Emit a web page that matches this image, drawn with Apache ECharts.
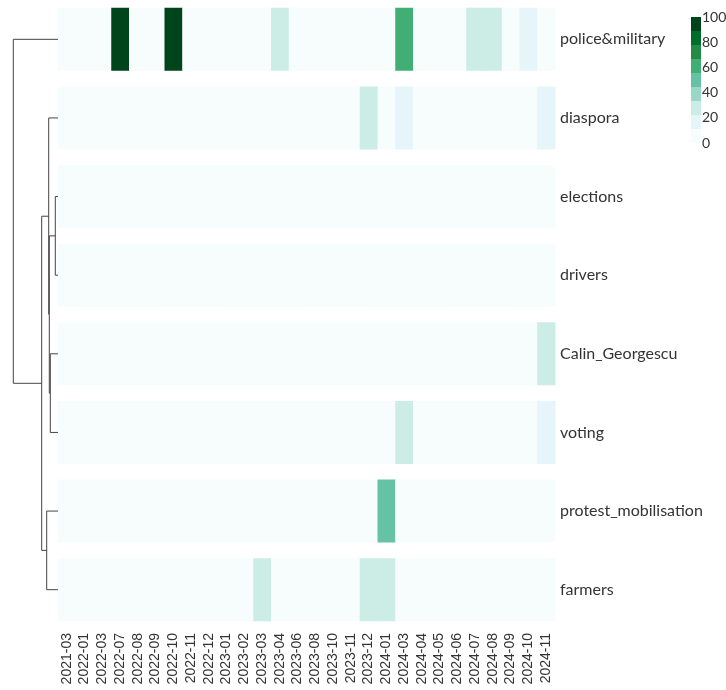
<!DOCTYPE html>
<html><head><meta charset="utf-8">
<script src="https://cdn.jsdelivr.net/npm/echarts@6/dist/echarts.min.js"></script>
<style>html,body{margin:0;padding:0;background:#fff}#c{width:726px;height:690px}</style>
</head><body><div id="c"></div>
<script>
const months = ['2021-03','2022-01','2022-03','2022-07','2022-08','2022-09','2022-10','2022-11','2022-12','2023-01','2023-02','2023-03','2023-04','2023-06','2023-08','2023-10','2023-11','2023-12','2024-01','2024-03','2024-04','2024-05','2024-06','2024-07','2024-08','2024-09','2024-10','2024-11'];
const topics = ['police&military','diaspora','elections','drivers','Calin_Georgescu','voting','protest_mobilisation','farmers'];
// non-zero cells: [monthIndex, value]
const police   = [[3,100],[6,100],[12,28],[19,60],[23,28],[24,28],[26,17]];
const diaspora = [[17,28],[19,17],[27,17]];
const elections = [];
const drivers = [];
const calin = [[27,28]];
const voting = [[19,28],[27,17]];
const protest = [[18,50]];
const farmers = [[11,28],[17,28],[18,28]];
const rowsData = [police, diaspora, elections, drivers, calin, voting, protest, farmers];
// dendrogram linkage (leaves 0..7 in display order; new nodes from 8)
const linkLeft   = [2, 4, 8, 1, 6, 11, 0];
const linkRight  = [3, 5, 9, 10, 7, 12, 13];
const linkHeight = [2.7, 7.7, 8.7, 9.3, 11.3, 16.3, 44.7];
const colorbarTicks = [0,20,40,60,80,100];
const palette = ['#f7fcfd','#e5f5f9','#ccece6','#99d8c9','#66c2a4','#41ae76','#238b45','#006d2c','#00441b'];

const cells = [];
for (let r = 0; r < topics.length; r++) {
  const m = {};
  rowsData[r].forEach(p => m[p[0]] = p[1]);
  for (let c = 0; c < months.length; c++) cells.push([c, r, m[c] || 0]);
}
const nodeY = [], nodeH = [];
for (let i = 0; i < topics.length; i++) { nodeY.push(i); nodeH.push(0); }
const dendroSeries = [];
for (let k = 0; k < linkLeft.length; k++) {
  const a = linkLeft[k], b = linkRight[k], h = linkHeight[k];
  dendroSeries.push({
    type: 'line', xAxisIndex: 1, yAxisIndex: 1, symbol: 'none', silent: true,
    lineStyle: { color: '#444', width: 1 },
    data: [[nodeH[a], nodeY[a]], [h, nodeY[a]], [h, nodeY[b]], [nodeH[b], nodeY[b]]]
  });
  nodeY.push((nodeY[a] + nodeY[b]) / 2); nodeH.push(h);
}
const pieces = palette.map((col, i) => ({ gte: i * 100 / 9, lt: (i + 1) * 100 / 9 + (i === 8 ? 1 : 0), color: col }));

const chart = echarts.init(document.getElementById('c'));
chart.setOption({
  animation: false,
  grid: [
    { left: 58, top: 0, width: 497, height: 629 },
    { left: 12, top: 0, width: 46, height: 629 },
    { left: 702, top: 17, width: 10, height: 126 }
  ],
  xAxis: [
    { type: 'category', gridIndex: 0, data: months, axisLine: { show: false }, axisTick: { show: false },
      axisLabel: { rotate: 90, interval: 0, margin: 4, fontSize: 14, color: '#333', fontFamily: 'Liberation Sans' } },
    { type: 'value', gridIndex: 1, min: 0, max: 46, inverse: true, show: false },
    { type: 'value', gridIndex: 2, show: false, min: 0, max: 1 }
  ],
  yAxis: [
    { type: 'category', gridIndex: 0, data: topics, inverse: true, position: 'right',
      axisLine: { show: false }, axisTick: { show: false },
      axisLabel: { margin: 5, fontSize: 16, color: '#333', fontFamily: 'Lato' } },
    { type: 'value', gridIndex: 1, min: -0.5, max: 7.5, inverse: true, show: false },
    { type: 'value', gridIndex: 2, min: 0, max: 100, interval: 20, position: 'left',
      axisLine: { show: false }, axisTick: { show: false }, splitLine: { show: false },
      axisLabel: { inside: true, margin: 0, fontSize: 14, color: '#333', fontFamily: 'Lato',
        formatter: v => colorbarTicks.indexOf(v) >= 0 ? String(v) : '' } }
  ],
  visualMap: {
    type: 'piecewise', seriesIndex: 0, pieces: pieces, left: 691, top: 17,
    itemWidth: 10, itemHeight: 14, itemGap: 0, itemSymbol: 'rect', showLabel: false,
    selectedMode: false, orient: 'vertical', padding: 0, textGap: 0
  },
  series: [
    {
      type: 'custom', xAxisIndex: 0, yAxisIndex: 0, data: cells, silent: true,
      encode: { x: 0, y: 1, value: 2 },
      renderItem: function (params, api) {
        const p = api.coord([api.value(0), api.value(1)]);
        const s = api.size([1, 1]);
        const h = s[1] * 0.8;
        return { type: 'rect', shape: { x: p[0] - s[0] / 2, y: p[1] - h / 2, width: s[0] + 0.5, height: h },
          style: { fill: api.visual('color') } };
      }
    },
    ...dendroSeries,
    { type: 'line', xAxisIndex: 2, yAxisIndex: 2, data: [], symbol: 'none' }
  ]
});
</script></body></html>
